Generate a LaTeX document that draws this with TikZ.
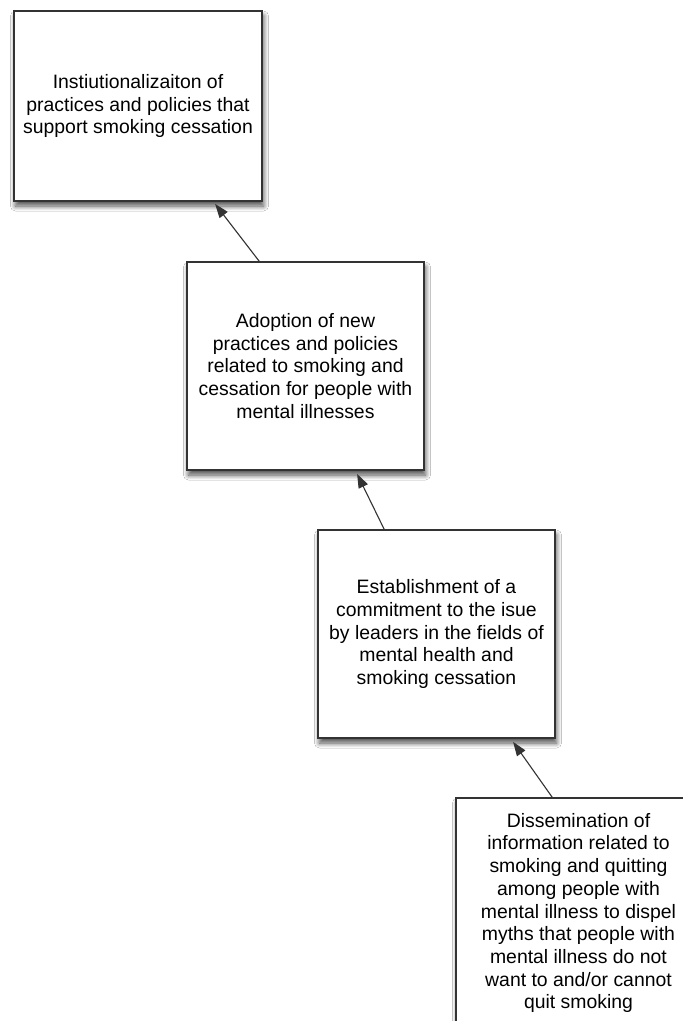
\documentclass[tikz,border=0pt]{standalone}
\usepackage{fontspec}
\setmainfont{Liberation Sans}
\usetikzlibrary{arrows.meta,shadows.blur}
\definecolor{edge}{HTML}{333333}
\tikzset{
  stagebox/.style={draw=edge, line width=1.8pt, fill=white, inner sep=0pt, align=center,
    font=\fontsize{19.4}{22.7}\selectfont,
    blur shadow={shadow xshift=1.5pt, shadow yshift=-5pt, shadow blur radius=5pt, shadow blur steps=10, shadow opacity=70}},
  arr/.style={draw=black!80, line width=1.1pt, -{Triangle[length=14pt,width=10pt]}}
}
\begin{document}
\begin{tikzpicture}[x=1pt,y=-1pt]
\useasboundingbox (0,0) rectangle (683,1021);
\fill[white] (0,0) rectangle (683,1021);
\clip (0,0) rectangle (683,1021);
\node[stagebox, minimum width=248pt, minimum height=190pt] (b1) at (138,106)
  {Instiutionalizaiton of\\practices and policies that\\support smoking cessation};
\node[stagebox, minimum width=237pt, minimum height=208pt] (b2) at (305.5,366)
  {Adoption of new\\practices and policies\\related to smoking and\\cessation for people with\\mental illnesses};
\node[stagebox, minimum width=237pt, minimum height=208pt] (b3) at (436.5,634)
  {Establishment of a\\commitment to the isue\\by leaders in the fields of\\mental health and\\smoking cessation};
\node[stagebox, minimum width=245pt, minimum height=230pt] (b4) at (578.5,913)
  {Dissemination of\\information related to\\smoking and quitting\\among people with\\mental illness to dispel\\myths that people with\\mental illness do not\\want to and/or cannot\\quit smoking};
\draw[arr] ([xshift=73pt]b2.north west) -- ([xshift=202pt,yshift=-2pt]b1.south west);
\draw[arr] ([xshift=67pt]b3.north west) -- ([xshift=171pt,yshift=-3pt]b2.south west);
\draw[arr] ([xshift=97pt]b4.north west) -- ([xshift=196pt,yshift=-3pt]b3.south west);
\end{tikzpicture}
\end{document}
